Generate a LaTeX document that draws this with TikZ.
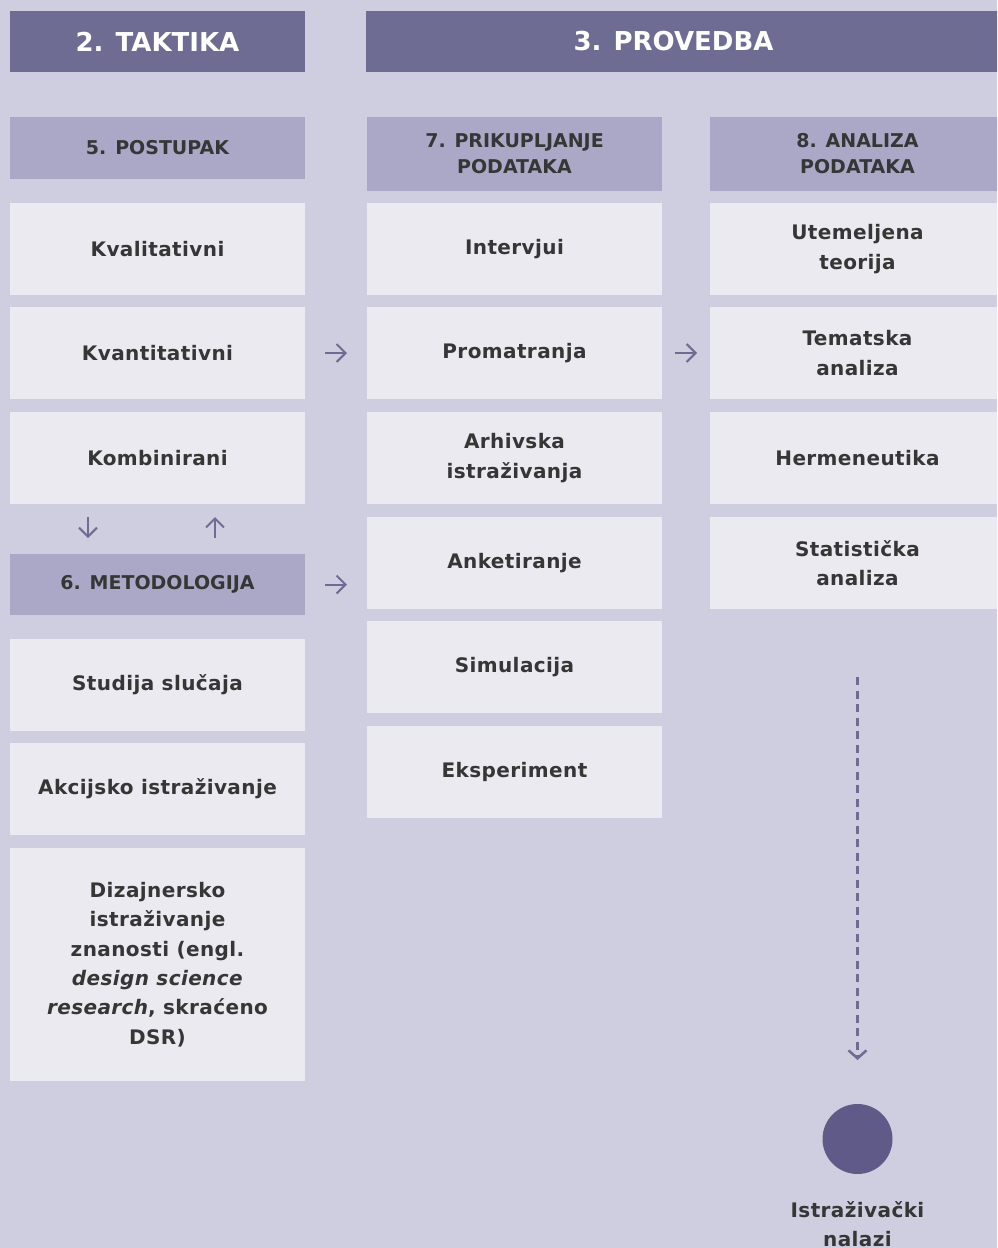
\documentclass[tikz,border=0pt]{standalone}
\usepackage{fontspec}
\setmainfont{DejaVu Sans}
\newfontfamily\bodyfont[LetterSpace=2]{DejaVu Sans}
\usetikzlibrary{arrows.meta}
\definecolor{bgc}{HTML}{CFCEE0}
\definecolor{hdrc}{HTML}{6E6C93}
\definecolor{subc}{HTML}{ABA8C7}
\definecolor{boxc}{HTML}{EAEAF0}
\definecolor{txtc}{HTML}{363636}
\definecolor{dotc}{HTML}{5F5A87}
\definecolor{arrc}{HTML}{6E6C93}
\tikzset{
  base/.style={inner sep=0pt, outer sep=0pt, minimum width=295pt, align=center, text=txtc},
  hdr/.style={base, fill=hdrc, text=white, minimum height=61pt, font=\fontsize{26}{30}\selectfont\bfseries},
  subh/.style={base, fill=subc, font=\fontsize{19}{26}\selectfont\bfseries},
  itembox/.style={base, fill=boxc, minimum height=92pt, font=\bodyfont\fontsize{20}{29.4}\selectfont\bfseries},
  arr/.style={draw=arrc, line width=2pt, -{Straight Barb[length=9pt,width=18pt]}},
  dasharr/.style={draw=arrc, line width=2.5pt, dash pattern=on 8pt off 5.5pt, -{Straight Barb[length=8pt,width=18pt]}}
}
\begin{document}
\begin{tikzpicture}[x=1pt,y=-1pt]
\path[use as bounding box] (0,0) rectangle (997,1248);
\clip (0,0) rectangle (997,1248);
\fill[bgc] (0,0) rectangle (997,1248);
% column 1
\node[hdr] (taktika) at (157.5,41.5) {2. TAKTIKA};
\node[subh, minimum height=62pt] (postupak) at (157.5,148) {5. POSTUPAK};
\node[itembox] (kval) at (157.5,249) {Kvalitativni};
\node[itembox] (kvant) at (157.5,353) {Kvantitativni};
\node[itembox] (komb) at (157.5,458) {Kombinirani};
\node[subh, minimum height=61pt] (metod) at (157.5,584.5) {6. METODOLOGIJA};
\node[itembox] (studija) at (157.5,685) {Studija slučaja};
\node[itembox] (akcij) at (157.5,789) {Akcijsko istraživanje};
\node[itembox, minimum height=233pt] (dsr) at (157.5,964.5) {Dizajnersko\\istraživanje\\znanosti (engl.\\\textit{design science}\\\textit{research}, skraćeno\\DSR)};
% column 2
\node[hdr, minimum width=639pt] (provedba) at (685.5,41.5) {\hspace*{-24pt}3. PROVEDBA};
\node[subh, minimum height=74pt] (prik) at (514.5,154) {7. PRIKUPLJANJE\\PODATAKA};
\node[itembox] (interv) at (514.5,249) {Intervjui};
\node[itembox] (prom) at (514.5,353) {Promatranja};
\node[itembox] (arh) at (514.5,458) {Arhivska\\istraživanja};
\node[itembox] (anket) at (514.5,563) {Anketiranje};
\node[itembox] (simul) at (514.5,667) {Simulacija};
\node[itembox] (eksp) at (514.5,772) {Eksperiment};
% column 3
\node[subh, minimum height=74pt] (analiza) at (857.5,154) {8. ANALIZA\\PODATAKA};
\node[itembox] (utem) at (857.5,249) {Utemeljena\\teorija};
\node[itembox] (temat) at (857.5,353) {Tematska\\analiza};
\node[itembox] (herm) at (857.5,458) {Hermeneutika};
\node[itembox] (stat) at (857.5,563) {Statistička\\analiza};
% result
\node[circle, fill=dotc, minimum size=70pt, inner sep=0pt, outer sep=0pt] (dot) at (857.5,1139) {};
\node[align=center, text=txtc, font=\bodyfont\fontsize{20}{29.4}\selectfont\bfseries, inner sep=0pt] (nalazi) at (857.5,1224) {Istraživački\\nalazi};
% connectors
\draw[arr, shorten <=20pt, shorten >=20pt] (kvant.east) -- (prom.west);
\draw[arr, shorten <=13pt, shorten >=13pt] (prom.east) -- (temat.west);
\coordinate (metodend) at (367,584.5);
\draw[arr, shorten <=20pt, shorten >=20pt] (metod.east) -- (metodend);
\draw[arr, shorten <=13pt, shorten >=16pt] ([xshift=-69.5pt]komb.south) -- ([xshift=-69.5pt]metod.north);
\draw[arr, shorten <=16pt, shorten >=13pt] ([xshift=57.5pt]metod.north) -- ([xshift=57.5pt]komb.south);
\draw[dasharr, shorten <=68pt, shorten >=44pt] (stat.south) -- (dot.north);
\end{tikzpicture}
\end{document}
